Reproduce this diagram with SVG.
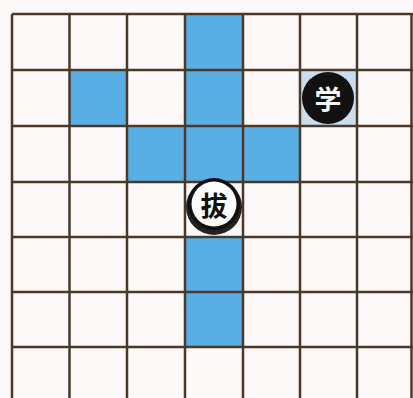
<svg xmlns="http://www.w3.org/2000/svg" width="413" height="398" viewBox="0 0 413 398">
<style>
.hl{fill:#5aaee6}
.ln{stroke:#4a3828;stroke-width:2.5;fill:none}
.ch{font-family:"Noto Sans CJK SC","Noto Sans CJK TC",sans-serif;font-size:27px;font-weight:bold;text-anchor:middle;dominant-baseline:central}
</style>
<rect width="413" height="398" fill="#fdf9f9"/>
<g id="highlights">
<rect class="hl" x="185" y="14" width="58" height="168"/>
<rect class="hl" x="70" y="70" width="57" height="56"/>
<rect class="hl" x="127" y="126" width="58" height="56"/>
<rect class="hl" x="243" y="126" width="57" height="56"/>
<rect class="hl" x="185" y="237" width="58" height="110"/>
<rect x="300" y="70" width="57" height="56" fill="#c9dff0"/>
</g>
<g id="grid">
<path class="ln" d="M12,14V398M69.5,14V398M127,14V398M185,14V398M243,14V398M300,14V398M357,14V398M411.5,14V398"/>
<path class="ln" d="M12,14H413M12,70H413M12,126H413M12,182H413M12,237H413M12,292H413M12,347H413"/>
</g>
<g id="piece-black">
<circle cx="328" cy="98" r="26" fill="#111"/>
<text class="ch" x="328" y="98" fill="#f4f4f4">学</text>
</g>
<g id="piece-white">
<circle cx="214" cy="207" r="28" fill="#222"/>
<circle cx="214" cy="204" r="26" fill="#111"/>
<circle cx="214" cy="204" r="22.5" fill="#fbfbfb"/>
<text class="ch" x="214" y="204" fill="#111">拔</text>
</g>
</svg>
